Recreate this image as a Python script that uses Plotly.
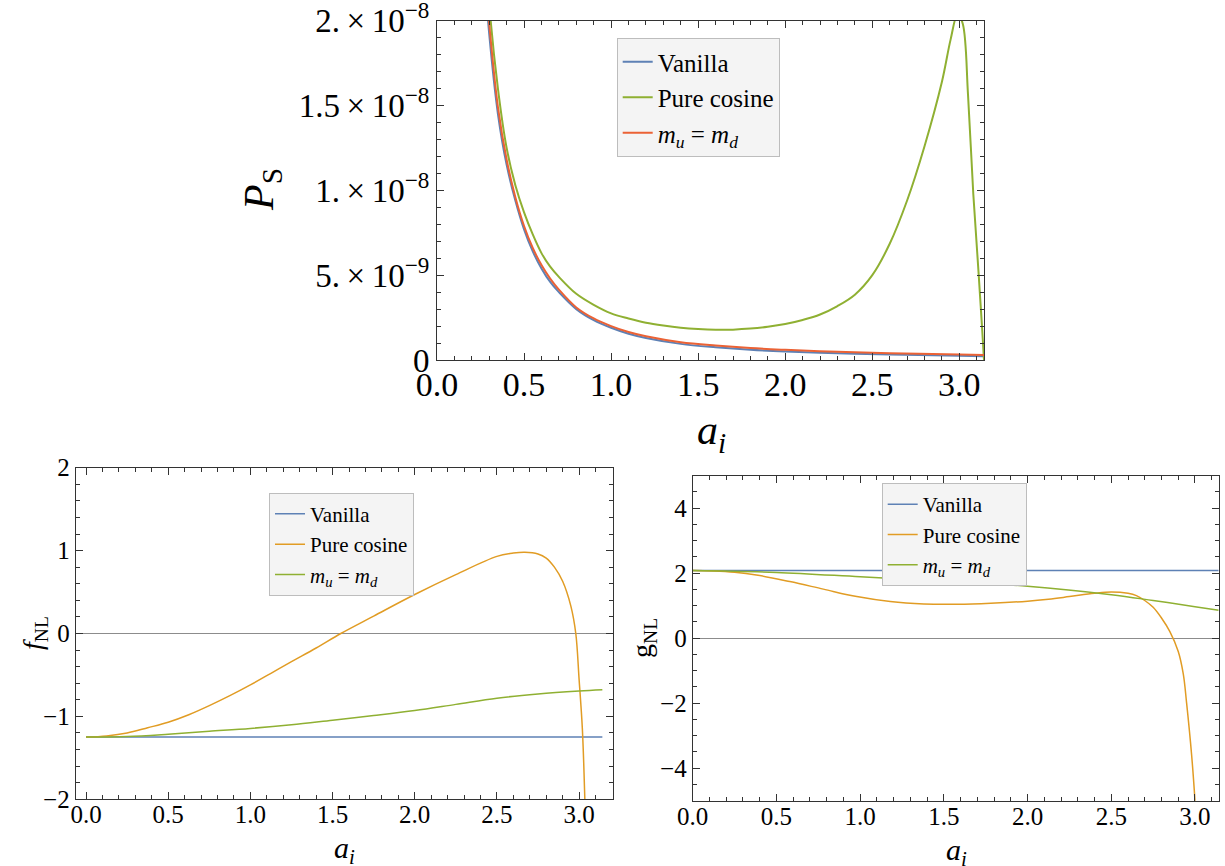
import math
import plotly.graph_objects as go

PI = math.pi

# ---------------- Top panel: P_S vs a_i (values in units of 1e-9) ----------------
ps_vanilla_x = [0.25, 0.29, 0.30, 0.35, 0.40, 0.45, 0.50, 0.55, 0.60, 0.65, 0.70, 0.80, 0.90, 1.00,
                1.10, 1.20, 1.40, 1.60, 1.80, 2.00, 2.30, 2.60, 3.00, PI]
ps_vanilla_y = [28.0, 20.5, 19.2, 14.5, 11.5, 9.4, 7.7, 6.4, 5.4, 4.6, 4.0, 3.0, 2.35, 1.9,
                1.55, 1.3, 0.95, 0.75, 0.6, 0.5, 0.4, 0.32, 0.25, 0.22]

ps_mumd_x = [0.25, 0.29, 0.30, 0.35, 0.40, 0.45, 0.50, 0.55, 0.60, 0.65, 0.70, 0.80, 0.90, 1.00,
             1.10, 1.20, 1.40, 1.60, 1.80, 2.00, 2.30, 2.60, 3.00, PI]
ps_mumd_y = [29.0, 21.0, 19.8, 14.9, 11.8, 9.6, 7.9, 6.6, 5.6, 4.8, 4.15, 3.1, 2.45, 2.0,
             1.65, 1.4, 1.05, 0.85, 0.7, 0.6, 0.48, 0.4, 0.33, 0.3]

ps_cos_x = [0.25, 0.30, 0.35, 0.40, 0.45, 0.50, 0.55, 0.60, 0.65, 0.70, 0.80, 0.90, 1.00, 1.10,
            1.20, 1.30, 1.40, 1.50, 1.60, 1.70, 1.80, 1.90, 2.00, 2.10, 2.20, 2.30, 2.40, 2.50,
            2.60, 2.70, 2.80, 2.90, 2.95, 2.99, 3.02, 3.05, 3.08, 3.11, 3.13, PI]
ps_cos_y = [30.0, 21.0, 16.0, 12.5, 10.3, 8.7, 7.4, 6.3, 5.5, 4.9, 3.9, 3.25, 2.75, 2.45,
            2.2, 2.03, 1.9, 1.82, 1.78, 1.79, 1.85, 1.96, 2.12, 2.36, 2.68, 3.18, 3.85, 5.0,
            6.85, 9.4, 12.6, 16.4, 18.9, 20.4, 19.8, 15.6, 9.8, 5.2, 2.0, 0.0]

# ---------------- Bottom-left: f_NL ----------------
fnl_vanilla_x = [0.0, PI]
fnl_vanilla_y = [-1.25, -1.25]

fnl_cos_x = [0.0, 0.125, 0.25, 0.375, 0.50, 0.625, 0.75, 0.875, 1.00, 1.125, 1.25, 1.40, 1.55, 1.75,
             2.00, 2.25, 2.50, 2.60, 2.67, 2.75, 2.80, 2.85, 2.90, 2.95, 2.98, 3.00, 3.02, 3.035, 3.05]
fnl_cos_y = [-1.25, -1.235, -1.20, -1.137, -1.07, -0.98, -0.87, -0.75, -0.62, -0.48, -0.34, -0.175, 0.0, 0.21,
             0.47, 0.71, 0.93, 0.97, 0.98, 0.96, 0.91, 0.80, 0.63, 0.33, 0.0, -0.55, -1.15, -2.0, -3.2]

fnl_mumd_x = [0.0, 0.25, 0.50, 0.75, 1.00, 1.25, 1.50, 1.75, 2.00, 2.25, 2.50, 2.75, 3.00, PI]
fnl_mumd_y = [-1.25, -1.243, -1.215, -1.18, -1.145, -1.10, -1.045, -0.99, -0.93, -0.855, -0.78,
              -0.73, -0.695, -0.68]

# ---------------- Bottom-right: g_NL ----------------
gnl_vanilla_x = [0.0, PI]
gnl_vanilla_y = [2.083, 2.083]

gnl_cos_x = [0.0, 0.125, 0.25, 0.38, 0.58, 0.78, 0.98, 1.18, 1.38, 1.58, 1.78, 2.00, 2.125, 2.25,
             2.40, 2.50, 2.60, 2.65, 2.70, 2.75, 2.80, 2.85, 2.90, 2.93, 2.95, 2.98, 3.00, 3.02]
gnl_cos_y = [2.083, 2.07, 2.03, 1.947, 1.742, 1.51, 1.28, 1.127, 1.055, 1.046, 1.077, 1.14, 1.20, 1.28,
             1.38, 1.42, 1.38, 1.31, 1.16, 0.95, 0.62, 0.2, -0.41, -1.1, -2.0, -3.6, -5.0, -6.8]

gnl_mumd_x = [0.0, 0.50, 1.00, 1.50, 2.00, 2.50, 2.75, 3.00, PI]
gnl_mumd_y = [2.083, 2.025, 1.89, 1.75, 1.6, 1.34, 1.16, 0.97, 0.86]

# tick labels
ps_tickvals = [0, 5e-9, 1e-8, 1.5e-8, 2e-8]
ps_ticktext = ["0", "5.\u2009×\u200910<sup>−9</sup>", "1.\u2009×\u200910<sup>−8</sup>",
               "1.5\u2009×\u200910<sup>−8</sup>", "2.\u2009×\u200910<sup>−8</sup>"]
series_names = ["Vanilla", "Pure cosine", "<i>m<sub>u</sub></i> = <i>m<sub>d</sub></i>"]

BLUE = "#5E81B5"
ORANGE = "#E19C24"
GREEN = "#8FB032"
RED = "#EB6235"
FONT = "Liberation Serif"

fig = go.Figure()

def add(x, y, name, color, xa, ya, leg, width):
    fig.add_trace(go.Scatter(x=x, y=y, mode="lines", name=name, xaxis=xa, yaxis=ya, legend=leg,
                             line=dict(color=color, width=width, shape="spline", smoothing=1.0)))

add(ps_vanilla_x, [v * 1e-9 for v in ps_vanilla_y], series_names[0], BLUE, "x", "y", "legend", 2)
add(ps_cos_x, [v * 1e-9 for v in ps_cos_y], series_names[1], GREEN, "x", "y", "legend", 2)
add(ps_mumd_x, [v * 1e-9 for v in ps_mumd_y], series_names[2], RED, "x", "y", "legend", 2)

add(fnl_vanilla_x, fnl_vanilla_y, series_names[0], BLUE, "x2", "y2", "legend2", 1.5)
add(fnl_cos_x, fnl_cos_y, series_names[1], ORANGE, "x2", "y2", "legend2", 1.5)
add(fnl_mumd_x, fnl_mumd_y, series_names[2], GREEN, "x2", "y2", "legend2", 1.5)

add(gnl_vanilla_x, gnl_vanilla_y, series_names[0], BLUE, "x3", "y3", "legend3", 1.5)
add(gnl_cos_x, gnl_cos_y, series_names[1], ORANGE, "x3", "y3", "legend3", 1.5)
add(gnl_mumd_x, gnl_mumd_y, series_names[2], GREEN, "x3", "y3", "legend3", 1.5)

W, H = 1225, 866
FRAME = "#333333"

def axis(domain, anchor, rng, dtick, minor_dtick, size, zeroline=False, **kw):
    d = dict(domain=domain, anchor=anchor, range=rng, dtick=dtick, showgrid=False, automargin=False,
             showline=True, linecolor=FRAME, linewidth=1, mirror="allticks",
             ticks="inside", ticklen=7, tickcolor=FRAME, tickwidth=1, ticklabeloverflow="allow",
             tickfont=dict(family=FONT, size=size, color="black"),
             minor=dict(dtick=minor_dtick, ticks="inside", ticklen=4, tickcolor=FRAME, showgrid=False),
             zeroline=zeroline, zerolinecolor="#8c8c8c", zerolinewidth=1)
    d.update(kw)
    return d

def px_x(p):
    return p / W

def px_y(p):
    return 1 - p / H

legend_common = dict(bgcolor="#f4f4f4", bordercolor="#bdbdbd", borderwidth=1,
                     xanchor="left", yanchor="top", tracegroupgap=0)

fig.update_layout(
    template="none",
    width=W, height=H, autosize=False,
    margin=dict(l=0, r=0, t=0, b=0, pad=0),
    paper_bgcolor="white", plot_bgcolor="white",
    font=dict(family=FONT, color="black"),
    xaxis=axis([px_x(437), px_x(984)], "y", [0, PI], 0.5, 0.1, 34, tickformat=".1f",
               ticklabelstandoff=-6),
    yaxis=axis([px_y(360), px_y(20.7)], "x", [0, 2e-8], None, 1e-9, 33,
               tickvals=ps_tickvals, ticktext=ps_ticktext),
    xaxis2=axis([px_x(75.7), px_x(612.7)], "y2", [-0.063, 3.2046], 0.5, 0.1, 25, tickformat=".1f",
                ticklabelstandoff=-7),
    yaxis2=axis([px_y(799.3), px_y(467.7)], "x2", [-2, 2], 1, 0.2, 25, zeroline=True),
    xaxis3=axis([px_x(692.7), px_x(1218.7)], "y3", [0, PI], 0.5, 0.1, 25, tickformat=".1f",
                ticklabelstandoff=-7),
    yaxis3=axis([px_y(800.7), px_y(475.7)], "x3", [-5, 5], 2, 0.5, 25, zeroline=True),
    legend=dict(x=px_x(616.7), y=px_y(38), font=dict(family=FONT, size=25), **legend_common),
    legend2=dict(x=px_x(269), y=px_y(492.7), font=dict(family=FONT, size=21), **legend_common),
    legend3=dict(x=px_x(881.7), y=px_y(483), font=dict(family=FONT, size=21), **legend_common),
)

annotations = [
    dict(text="<i>P</i><sub>S</sub>", x=px_x(262), y=px_y(190), textangle=-90, size=42),
    dict(text="<i>a<sub>i</sub></i>", x=px_x(711), y=px_y(433), textangle=0, size=42),
    dict(text="<i>f</i><sub>NL</sub>", x=px_x(34), y=px_y(633), textangle=-90, size=28),
    dict(text="<i>a<sub>i</sub></i>", x=px_x(344), y=px_y(850), textangle=0, size=30),
    dict(text="g<sub>NL</sub>", x=px_x(643), y=px_y(638), textangle=-90, size=28),
    dict(text="<i>a<sub>i</sub></i>", x=px_x(956), y=px_y(852), textangle=0, size=30),
]
for a in annotations:
    fig.add_annotation(text=a["text"], x=a["x"], y=a["y"], xref="paper", yref="paper",
                       showarrow=False, textangle=a["textangle"], xanchor="center", yanchor="middle",
                       font=dict(family=FONT, size=a["size"], color="black"))

fig.write_html("out.html", config={"displayModeBar": False},
               post_script="document.body.style.margin='0';document.body.style.overflow='hidden';")
